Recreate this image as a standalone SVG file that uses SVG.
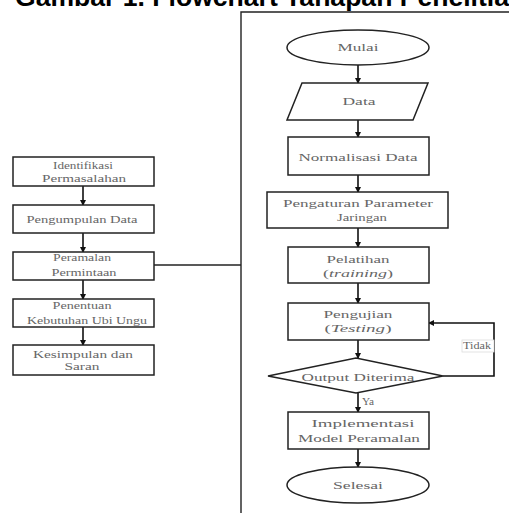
<svg xmlns="http://www.w3.org/2000/svg" width="509" height="513" viewBox="0 0 509 513">
<defs>
<marker id="ah" markerWidth="6" markerHeight="6" refX="5" refY="3" orient="auto" markerUnits="userSpaceOnUse">
<path d="M0,0 L6,3 L0,6 Z" fill="#111"/>
</marker>
<style>
.shape{fill:#fff;stroke:#222;stroke-width:1.5}
.ln{fill:none;stroke:#222;stroke-width:1.4}
.ar{fill:none;stroke:#111;stroke-width:1.6;marker-end:url(#ah)}
.t{font-family:"Liberation Serif","Times New Roman",serif;font-size:11px;fill:#666;text-anchor:middle}
.ts{font-family:"Liberation Serif","Times New Roman",serif;font-size:10.5px;fill:#666;text-anchor:middle}
.title{font-family:"Liberation Sans",Arial,sans-serif;font-weight:bold;font-size:26px;fill:#000}
</style>
</defs>
<rect width="509" height="513" fill="#fff"/>
<text class="title" x="15" y="6" textLength="494" lengthAdjust="spacingAndGlyphs">Gambar 1. Flowchart Tahapan Penelitia</text>

<g id="connectors">
<path class="ln" d="M241,513 V12 H509"/>
<path class="ln" d="M154,265 H241"/>
<path class="ar" d="M83,186 V205"/>
<path class="ar" d="M83,233 V252"/>
<path class="ar" d="M83,280 V299"/>
<path class="ar" d="M83,327 V345"/>
<path class="ar" d="M358,65 V83"/>
<path class="ar" d="M358,120 V137"/>
<path class="ar" d="M358,175 V192"/>
<path class="ar" d="M358,228 V247"/>
<path class="ar" d="M358,283 V303"/>
<path class="ar" d="M358,340 V358"/>
<path class="ar" d="M358,393 V412"/>
<path class="ar" d="M358,449 V467"/>
<path class="ar" d="M443,376 H494 V323 H429"/>
</g>

<g id="identifikasi">
<rect class="shape" x="13" y="157" width="141" height="29"/>
<text class="ts" x="83" y="169" textLength="60" lengthAdjust="spacingAndGlyphs">Identifikasi</text>
<text class="ts" x="84" y="182" textLength="84" lengthAdjust="spacingAndGlyphs">Permasalahan</text>
</g>
<g id="pengumpulan">
<rect class="shape" x="13" y="205" width="141" height="28"/>
<text class="ts" x="82" y="223" textLength="111" lengthAdjust="spacingAndGlyphs">Pengumpulan Data</text>
</g>
<g id="peramalan">
<rect class="shape" x="13" y="252" width="141" height="28"/>
<text class="ts" x="82" y="261" textLength="58" lengthAdjust="spacingAndGlyphs">Peramalan</text>
<text class="ts" x="84" y="276" textLength="65" lengthAdjust="spacingAndGlyphs">Permintaan</text>
</g>
<g id="penentuan">
<rect class="shape" x="13" y="299" width="141" height="28"/>
<text class="ts" x="82" y="309" textLength="59" lengthAdjust="spacingAndGlyphs">Penentuan</text>
<text class="ts" x="87" y="324" textLength="120" lengthAdjust="spacingAndGlyphs">Kebutuhan Ubi Ungu</text>
</g>
<g id="kesimpulan">
<rect class="shape" x="13" y="345" width="141" height="30"/>
<text class="ts" x="83" y="358" textLength="100" lengthAdjust="spacingAndGlyphs">Kesimpulan dan</text>
<text class="ts" x="82" y="370" textLength="35" lengthAdjust="spacingAndGlyphs">Saran</text>
</g>

<g id="mulai">
<ellipse class="shape" cx="358" cy="47.5" rx="71" ry="17.5"/>
<text class="t" x="358" y="51" textLength="41" lengthAdjust="spacingAndGlyphs">Mulai</text>
</g>
<g id="data">
<polygon class="shape" points="302,83 428,83 413,120 287,120"/>
<text class="t" x="359" y="105" textLength="33" lengthAdjust="spacingAndGlyphs">Data</text>
</g>
<g id="normalisasi">
<rect class="shape" x="288" y="137" width="141" height="38"/>
<text class="t" x="358" y="161" textLength="119" lengthAdjust="spacingAndGlyphs">Normalisasi Data</text>
</g>
<g id="pengaturan">
<rect class="shape" x="267" y="192" width="181" height="36"/>
<text class="t" x="358" y="207" textLength="150" lengthAdjust="spacingAndGlyphs">Pengaturan Parameter</text>
<text class="t" x="362" y="221" textLength="50" lengthAdjust="spacingAndGlyphs">Jaringan</text>
</g>
<g id="pelatihan">
<rect class="shape" x="288" y="247" width="141" height="36"/>
<text class="t" x="358" y="263" textLength="63" lengthAdjust="spacingAndGlyphs">Pelatihan</text>
<text class="t" x="358" y="277" textLength="70" lengthAdjust="spacingAndGlyphs">(<tspan font-style="italic">training</tspan>)</text>
</g>
<g id="pengujian">
<rect class="shape" x="288" y="303" width="141" height="37"/>
<text class="t" x="358" y="318" textLength="69" lengthAdjust="spacingAndGlyphs">Pengujian</text>
<text class="t" x="358" y="332" textLength="67" lengthAdjust="spacingAndGlyphs">(<tspan font-style="italic">Testing</tspan>)</text>
</g>
<g id="output">
<polygon class="shape" points="268,376 356,358 443,376 356,393"/>
<text class="t" x="358" y="381" textLength="113" lengthAdjust="spacingAndGlyphs">Output Diterima</text>
</g>
<g id="implementasi">
<rect class="shape" x="288" y="412" width="141" height="37"/>
<text class="t" x="363" y="427" textLength="103" lengthAdjust="spacingAndGlyphs">Implementasi</text>
<text class="t" x="359" y="442" textLength="122" lengthAdjust="spacingAndGlyphs">Model Peramalan</text>
</g>
<g id="selesai">
<ellipse class="shape" cx="358" cy="485" rx="71" ry="18"/>
<text class="t" x="358" y="489" textLength="50" lengthAdjust="spacingAndGlyphs">Selesai</text>
</g>
<g id="label-tidak">
<rect x="462" y="340" width="32" height="12" fill="#fff" stroke="#ddd" stroke-width="0.8"/>
<text class="ts" x="477" y="349" font-size="8" textLength="28" lengthAdjust="spacingAndGlyphs" fill="#555">Tidak</text>
</g>
<g id="label-ya">
<text class="ts" x="368" y="405" font-size="8" textLength="12" lengthAdjust="spacingAndGlyphs" fill="#777">Ya</text>
</g>
</svg>
